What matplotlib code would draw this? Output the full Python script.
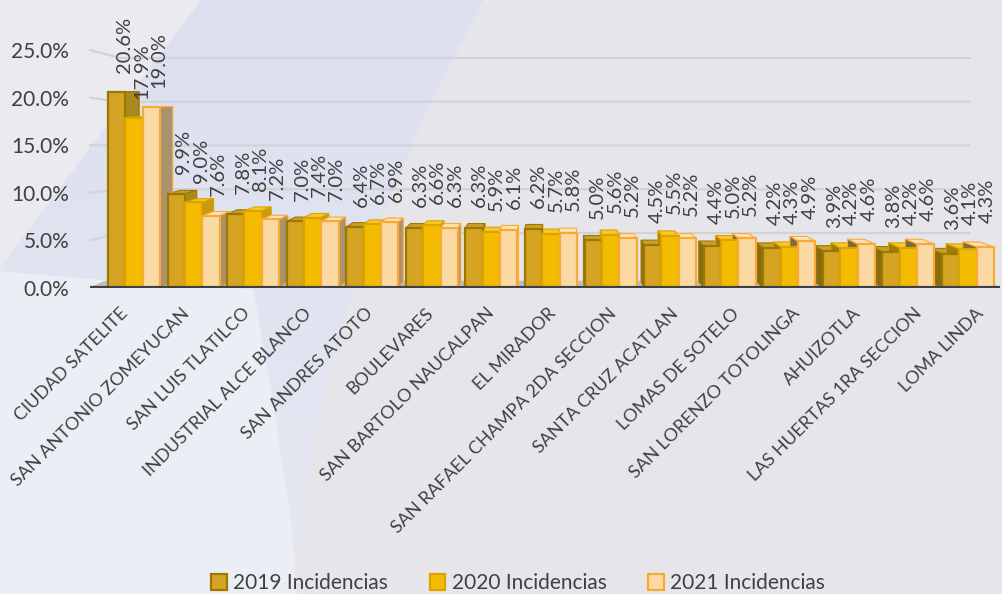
import numpy as np
import matplotlib.pyplot as plt
from matplotlib.patches import Polygon, Patch
from matplotlib.colors import LinearSegmentedColormap

plt.rcParams['font.family'] = ['Lato', 'DejaVu Sans']

colonias = ['CIUDAD SATELITE', 'SAN ANTONIO ZOMEYUCAN', 'SAN LUIS TLATILCO',
            'INDUSTRIAL ALCE BLANCO', 'SAN ANDRES ATOTO', 'BOULEVARES',
            'SAN BARTOLO NAUCALPAN', 'EL MIRADOR', 'SAN RAFAEL CHAMPA 2DA SECCION',
            'SANTA CRUZ ACATLAN', 'LOMAS DE SOTELO', 'SAN LORENZO TOTOLINGA',
            'AHUIZOTLA', 'LAS HUERTAS 1RA SECCION', 'LOMA LINDA']
inc_2019 = [20.6, 9.9, 7.8, 7.0, 6.4, 6.3, 6.3, 6.2, 5.0, 4.5, 4.4, 4.2, 3.9, 3.8, 3.6]
inc_2020 = [17.9, 9.0, 8.1, 7.4, 6.7, 6.6, 5.9, 5.7, 5.6, 5.5, 5.0, 4.3, 4.2, 4.2, 4.1]
inc_2021 = [19.0, 7.6, 7.2, 7.0, 6.9, 6.3, 6.1, 5.8, 5.2, 5.2, 5.2, 4.9, 4.6, 4.6, 4.3]
series_names = ['2019 Incidencias', '2020 Incidencias', '2021 Incidencias']
y_ticks = [0, 5, 10, 15, 20, 25]

face = ['#d4a422', '#f4bc00', '#fbd9a3']
edge = ['#9c7800', '#dca300', '#f9a935']
side_r = ['#a8891e', '#c89a10', '#a9926e']
side_l = ['#8a6c10', '#a07c08', '#7c6a3e']
top_c = ['#c9a02a', '#f8c72a', '#fde3b8']
txt = '#404040'

W, H = 1002, 594
fig = plt.figure(figsize=(W / 100, H / 100), dpi=100)
fig.patch.set_facecolor('#e6e6ea')

# background swoosh
bg = fig.add_axes([0, 0, 1, 1], zorder=-5)
band = Polygon([(200, 0), (483, 0), (422, 120), (353, 290), (315, 430), (297, 547),
                (295, H), (0, H), (0, 267)], facecolor='none', edgecolor='none')
bg.add_patch(band)
cmap = LinearSegmentedColormap.from_list('band', ['#dcdfee', '#e6e8f3'])
im = bg.imshow(np.linspace(0, 1, 256)[:, None], extent=(0, W, H, 0), cmap=cmap,
               aspect='auto', zorder=0)
im.set_clip_path(band)
bg.add_patch(Polygon([(0, 0), (200, 0), (0, 267)], color='#eaeaef', zorder=1))
bg.add_patch(Polygon([(0, 272), (120, 282), (253, 290), (272, 400), (290, 520),
                      (296, H), (0, H)], color='#eceef6', zorder=1))
bg.set_xlim(0, W)
bg.set_ylim(H, 0)
bg.axis('off')

ax = fig.add_axes([90 / W, (H - 288) / H, 910 / W, 288 / H])
ax.set_facecolor('none')
ax.set_xlim(-0.739, 14.537)
ax.set_ylim(0, 30.25)
for s in ax.spines.values():
    s.set_visible(False)

# back wall gridlines
for v in y_ticks[1:]:
    vb = (11.25 + 8.75 * v) / 9.52
    ax.plot([-0.739, -0.235, 14.03], [v, vb, vb], color='#d3d3d7', lw=1.6, zorder=0,
            clip_on=False)

# perspective: back edges move toward a vanishing point
vp_x, vp_y, depth = 7.0, 20.8, 0.0325

def back(x, y):
    return x + depth * (vp_x - x), y + depth * (vp_y - y)

# floor
fl = [(-0.739, 0), (14.537, 0), back(14.537, 0), back(-0.739, 0)]
ax.add_patch(Polygon(fl, color='#bdbdc1', zorder=1))

bw = 0.291
n = len(colonias)
x = np.arange(n)
for k, vals in enumerate([inc_2019, inc_2020, inc_2021]):
    xl = x - 0.437 + k * bw
    for i, h in enumerate(vals):
        l, r = xl[i], xl[i] + bw
        bl, br = back(l, h), back(r, h)
        top = [(l, h), (r, h), br, bl]
        ax.add_patch(Polygon(top, facecolor=top_c[k], edgecolor=edge[k], lw=0.8, zorder=2))
        if (l + r) / 2 < vp_x:
            sd = [(r, 0), (r, h), br, back(r, 0)]
            sc = side_r[k]
        else:
            sd = [(l, 0), (l, h), bl, back(l, 0)]
            sc = side_l[k]
        ax.add_patch(Polygon(sd, facecolor=sc, edgecolor=edge[k], lw=0.8, zorder=2))
    ax.bar(xl, vals, width=bw, align='edge', color=face[k], edgecolor=edge[k],
           linewidth=1.6, zorder=3)
    for i, h in enumerate(vals):
        dx = (8 - 6 * i / (n - 1)) / 59.57
        gap = 2.0 + 0.5 * i / (n - 1)
        ax.text(xl[i] + bw / 2 + dx, h + gap, f'{h:.1f}%', rotation=90, ha='center',
                va='bottom', fontsize=14.5, color=txt, zorder=5)

ax.axhline(0, color='#404040', lw=3, zorder=4)

ax.set_xticks([])
ax.set_yticks(y_ticks)
ax.set_yticklabels([f'{v:.1f}%' for v in y_ticks], fontsize=15, color=txt)
ax.tick_params(axis='y', length=0, pad=15)

# category names, slanted under each cluster
for i, name in enumerate(colonias):
    xa = -0.437 + (120 + 61.07 * i - 108) / 59.57
    ax.text(xa, -1.8, name, rotation=45, rotation_mode='anchor', ha='right',
            va='top', fontsize=13, color=txt)

handles = [Patch(facecolor=face[k], edgecolor=edge[k], lw=1.6) for k in range(3)]
fig.legend(handles, series_names, loc='center', bbox_to_anchor=(0.517, 0.018), ncol=3,
           frameon=False, fontsize=15, handlelength=0.75, handleheight=0.75,
           handletextpad=0.3, columnspacing=2.0, labelcolor=txt)

fig.savefig('out.png', dpi=100, facecolor=fig.get_facecolor())
